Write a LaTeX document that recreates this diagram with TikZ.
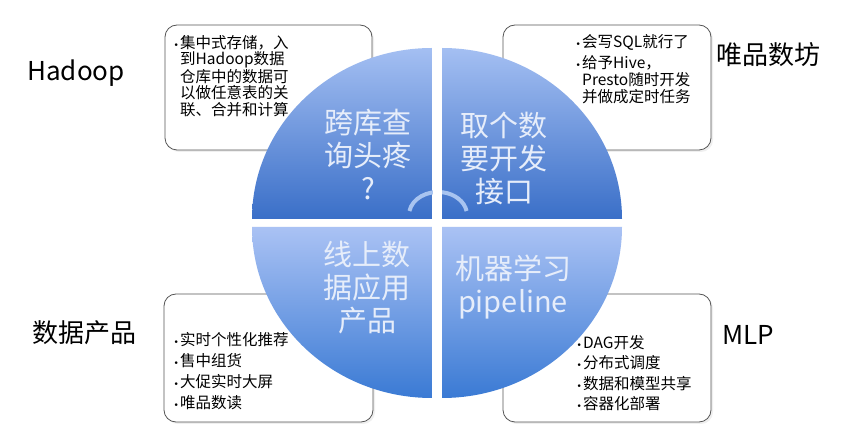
\documentclass[tikz,border=0pt]{standalone}
\usepackage{fontspec}
\setmainfont{Noto Sans CJK SC}
\newfontfamily\dejavu{DejaVu Sans}
\usetikzlibrary{shadows}
\definecolor{qtop}{HTML}{A4BFF2}
\definecolor{qbot}{HTML}{3A6FC8}
\definecolor{btop}{HTML}{AAC2F4}
\definecolor{bbot}{HTML}{3A7AD4}
\definecolor{qtext}{HTML}{E6EDFA}
\definecolor{arcblue}{HTML}{A8C4F0}
\definecolor{boxline}{HTML}{555555}
\newcommand\bul{\llap{{\dejavu\fontsize{9}{9}\selectfont •}\hspace{1.2pt}}}
\begin{document}
\begin{tikzpicture}[x=1pt,y=-1pt,
  infobox/.style={draw=boxline, line width=0.8pt, fill=white, rounded corners=12pt,
    drop shadow={shadow xshift=2pt, shadow yshift=-2pt, opacity=0.12}, inner sep=0},
  boxtext/.style={anchor=north west, inner sep=0, align=left, text=black},
  quadtext/.style={align=center, text=qtext, inner sep=0, font=\fontsize{29}{33}\selectfont},
  outer/.style={anchor=base, inner sep=0, font=\fontsize{26}{30}\selectfont, text=black}
]
\useasboundingbox (0,0) rectangle (863,435);
\fill[white] (0,0) rectangle (863,435);

% info boxes
\node[infobox, minimum width=207pt, minimum height=125pt] (tlbox) at (268.5,87.5) {};
\node[infobox, minimum width=208pt, minimum height=125pt] (trbox) at (607,87.5) {};
\node[infobox, minimum width=209pt, minimum height=128pt] (blbox) at (268.5,358) {};
\node[infobox, minimum width=208pt, minimum height=128pt] (brbox) at (607,358) {};

% quadrants
\shade[top color=qtop, bottom color=qbot] (432,219) -- (252,219)
  arc[start angle=180, end angle=270, x radius=180, y radius=171] -- cycle;
\shade[top color=qtop, bottom color=qbot] (442,219) -- (442,48)
  arc[start angle=270, end angle=360, x radius=180, y radius=171] -- cycle;
\shade[top color=btop, bottom color=bbot] (432,227) -- (252,227)
  arc[start angle=180, end angle=90, x radius=180, y radius=171] -- cycle;
\shade[top color=btop, bottom color=bbot] (442,227) -- (622,227)
  arc[start angle=0, end angle=90, x radius=180, y radius=171] -- cycle;

% centre arc
\coordinate (arcc) at (438,215);
\draw[arcblue, line width=4pt] (arcc) ++(190:29 and 23)
  arc[start angle=190, end angle=350, x radius=29, y radius=23];
\fill[white] (432.5,178) rectangle (441.5,219);

% quadrant texts
\node[quadtext] (q1) at (368,155) {跨库查\\询头疼\\?};
\node[quadtext] (q2) at (504,158) {取个数\\要开发\\接口};
\node[quadtext] (q3) at (367,288) {线上数\\据应用\\产品};
\node[quadtext] (q4) at (513,287) {机器学习\\pipeline};

% box texts
\node[boxtext, font=\fontsize{15.5}{16.5}\selectfont] (t1) at (180,35)
  {\bul 集中式存储，入\\到Hadoop数据\\仓库中的数据可\\以做任意表的关\\联、合并和计算};
\node[boxtext, font=\fontsize{15.5}{17}\selectfont] (t2) at (582,34)
  {\bul 会写SQL就行了\\[4pt]\bul 给予Hive，\\Presto随时开发\\并做成定时任务};
\node[boxtext, font=\fontsize{15.5}{21}\selectfont] (t3) at (180,332)
  {\bul 实时个性化推荐\\\bul 售中组货\\\bul 大促实时大屏\\\bul 唯品数读};
\node[boxtext, font=\fontsize{15.5}{20.5}\selectfont] (t4) at (583,335)
  {\bul DAG开发\\\bul 分布式调度\\\bul 数据和模型共享\\\bul 容器化部署};

% outer labels
\node[outer] (l1) at (76,81) {Hadoop};
\node[outer] (l2) at (768,65) {唯品数坊};
\node[outer] (l3) at (84.5,343) {数据产品};
\node[outer] (l4) at (748.5,345) {MLP};
\end{tikzpicture}
\end{document}
